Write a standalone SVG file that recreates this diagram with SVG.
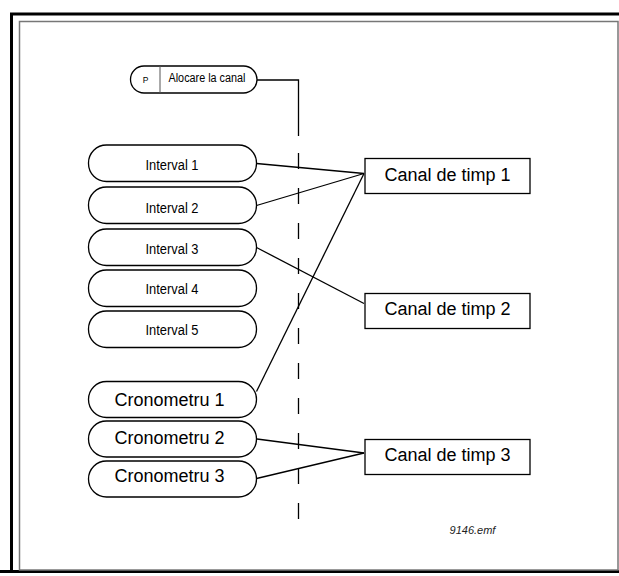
<svg xmlns="http://www.w3.org/2000/svg" width="619" height="576" viewBox="0 0 619 576">
<style>
.pill{fill:#fff;stroke:#000;stroke-width:1.3}
.box{fill:#fff;stroke:#000;stroke-width:1.3}
.small{font-family:"Liberation Sans",Arial,sans-serif;font-size:14px;fill:#000;text-anchor:middle}
.big{font-family:"Liberation Sans",Arial,sans-serif;font-size:18px;fill:#000;text-anchor:middle}
.conn{stroke:#000;stroke-width:1.3;fill:none}
</style>
<rect x="0" y="0" width="619" height="576" fill="#fff"/>
<path d="M11.5,571.5 V14 H619" fill="none" stroke="#000" stroke-width="3"/>
<line x1="0" y1="571.5" x2="619" y2="571.5" stroke="#000" stroke-width="3"/>
<rect x="19.5" y="21.5" width="598.5" height="548.5" fill="none" stroke="#777" stroke-width="1.5"/>

<g id="connectors">
<path class="conn" d="M257,80 H298.5 V136"/>
<line class="conn" x1="298.5" y1="153" x2="298.5" y2="519" stroke-dasharray="16 19" stroke="#333"/>
<line class="conn" x1="256.5" y1="163.5" x2="364" y2="173.5"/>
<line class="conn" x1="256.5" y1="205.5" x2="364" y2="173.5"/>
<line class="conn" x1="256.5" y1="391.5" x2="364" y2="173.5"/>
<line class="conn" x1="256.5" y1="247.5" x2="364" y2="303.5"/>
<line class="conn" x1="257" y1="439" x2="364" y2="453"/>
<line class="conn" x1="256.5" y1="478.5" x2="364" y2="453"/>
</g>

<g id="p-alocare">
<rect class="pill" x="130.5" y="66" width="126.5" height="27" rx="13.5"/>
<line x1="160" y1="66" x2="160" y2="93" stroke="#555" stroke-width="1"/>
<text x="145.5" y="83" font-family="Liberation Sans,Arial,sans-serif" font-size="8.5" text-anchor="middle">P</text>
<text x="207" y="82" font-family="Liberation Sans,Arial,sans-serif" font-size="12.5" text-anchor="middle" textLength="77" lengthAdjust="spacingAndGlyphs">Alocare la canal</text>
</g>

<g id="interval1"><rect class="pill" x="88.5" y="145" width="168" height="36.5" rx="18"/><text class="small" x="172" y="170" textLength="53" lengthAdjust="spacingAndGlyphs">Interval 1</text></g>
<g id="interval2"><rect class="pill" x="88.5" y="187" width="168" height="36.5" rx="18"/><text class="small" x="172" y="212.5" textLength="53" lengthAdjust="spacingAndGlyphs">Interval 2</text></g>
<g id="interval3"><rect class="pill" x="88.5" y="229" width="168" height="36.5" rx="18"/><text class="small" x="172" y="253.5" textLength="53" lengthAdjust="spacingAndGlyphs">Interval 3</text></g>
<g id="interval4"><rect class="pill" x="88.5" y="270" width="168" height="36.5" rx="18"/><text class="small" x="172" y="294" textLength="53" lengthAdjust="spacingAndGlyphs">Interval 4</text></g>
<g id="interval5"><rect class="pill" x="88.5" y="311" width="168" height="36.5" rx="18"/><text class="small" x="172" y="335" textLength="53" lengthAdjust="spacingAndGlyphs">Interval 5</text></g>

<g id="cronometru1"><rect class="pill" x="88.5" y="381.5" width="168" height="36" rx="18"/><text class="big" x="169.5" y="405.5">Cronometru 1</text></g>
<g id="cronometru2"><rect class="pill" x="88.5" y="421" width="168" height="36" rx="18"/><text class="big" x="169.5" y="443.5">Cronometru 2</text></g>
<g id="cronometru3"><rect class="pill" x="88.5" y="461" width="168" height="36" rx="18"/><text class="big" x="169.5" y="482">Cronometru 3</text></g>

<g id="canal1"><rect class="box" x="365" y="158.5" width="165" height="35"/><text class="big" x="447.5" y="180.5">Canal de timp 1</text></g>
<g id="canal2"><rect class="box" x="365" y="293.5" width="165" height="35"/><text class="big" x="447.5" y="315">Canal de timp 2</text></g>
<g id="canal3"><rect class="box" x="365" y="439.5" width="165" height="35"/><text class="big" x="447.5" y="461">Canal de timp 3</text></g>

<text x="472.5" y="534" font-family="Liberation Sans,Arial,sans-serif" font-size="11" font-style="italic" text-anchor="middle" fill="#222">9146.emf</text>
</svg>
